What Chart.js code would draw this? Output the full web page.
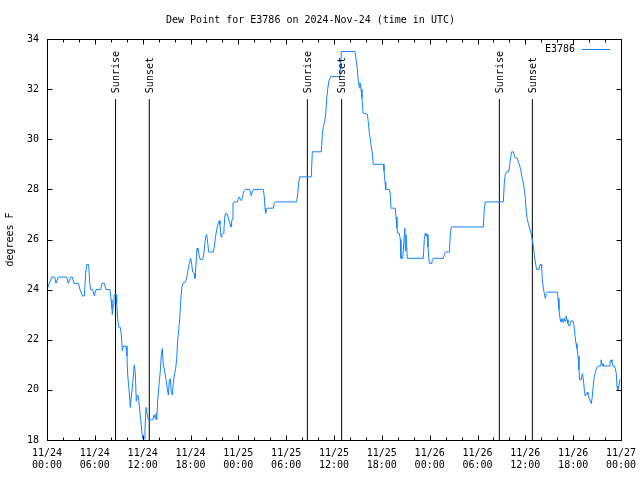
<!DOCTYPE html>
<html>
<head>
<meta charset="utf-8">
<title>Dew Point for E3786</title>
<script src="https://cdn.jsdelivr.net/npm/chart.js@4.4.1/dist/chart.umd.min.js"></script>
<style>
  html, body { margin: 0; padding: 0; background: #fff; }
  #grafico { display: block; }
</style>
</head>
<body>
<canvas id="grafico" width="640" height="480"></canvas>
<script>
// horas desde 11/24 00:00 UTC
const horas = [
  0, 0.59, 0.97, 1.13, 1.42, 2.47, 2.67, 2.97, 3.17, 3.39,
  3.93, 4.14, 4.43, 4.68, 4.85, 4.98, 5.23, 5.36, 5.48, 5.73,
  5.93, 6.15, 6.74, 6.90, 7.19, 7.40, 7.90, 8.03, 8.15, 8.19,
  8.32, 8.40, 8.66, 8.74, 8.87, 8.99, 9.19, 9.32, 9.45, 9.57,
  9.91, 10.03, 10.12, 10.29, 10.45, 10.62, 10.75, 10.88, 10.95, 11.08,
  11.20, 11.33, 11.45, 11.63, 11.75, 11.88, 12.00, 12.21, 12.29, 12.42,
  12.58, 12.71, 13.26, 13.42, 13.59, 13.67, 13.76, 13.89, 14.05, 14.21,
  14.34, 14.46, 14.59, 14.76, 14.93, 15.09, 15.22, 15.34, 15.47, 15.59,
  15.72, 15.84, 15.97, 16.14, 16.27, 16.39, 16.52, 16.65, 16.77, 16.90,
  17.02, 17.31, 17.47, 17.60, 17.72, 17.85, 18.03, 18.15, 18.28, 18.44,
  18.56, 18.69, 18.82, 18.94, 19.07, 19.23, 19.53, 19.66, 19.78, 19.91,
  20.03, 20.16, 20.28, 20.41, 20.86, 20.99, 21.11, 21.24, 21.36, 21.49,
  21.61, 21.70, 21.83, 21.95, 22.08, 22.20, 22.33, 22.45, 22.62, 22.74,
  22.87, 22.99, 23.08, 23.21, 23.33, 23.46, 23.87, 24.00, 24.12, 24.25,
  24.37, 24.50, 24.62, 24.75, 24.87, 25.38, 25.50, 25.63, 25.75, 25.88,
  27.13, 27.26, 27.35, 27.43, 27.51, 27.63, 28.39, 28.51, 28.64, 31.32,
  31.45, 31.57, 31.70, 33.15, 33.28, 34.41, 34.53, 34.66, 34.83, 34.96,
  35.09, 35.21, 35.34, 35.59, 36.75, 36.84, 36.92, 38.64, 38.76, 38.92,
  39.05, 39.18, 39.26, 39.39, 39.51, 39.64, 40.18, 40.30, 40.43, 40.55,
  40.68, 40.81, 40.93, 42.19, 42.27, 42.40, 42.49, 42.94, 43.06, 43.15,
  43.69, 43.78, 43.90, 43.99, 44.19, 44.32, 44.40, 44.62, 44.69, 44.82,
  44.87, 44.95, 45.03, 45.20, 47.20, 47.33, 47.45, 47.54, 47.67, 47.79,
  47.88, 47.96, 48.17, 48.29, 48.46, 49.71, 49.84, 49.96, 50.43, 50.51,
  50.59, 50.72, 54.73, 54.85, 54.98, 57.24, 57.36, 57.49, 57.66, 57.92,
  58.04, 58.17, 58.29, 58.49, 58.67, 58.74, 58.99, 59.12, 59.24, 59.37,
  59.50, 59.62, 59.75, 59.87, 60.00, 60.12, 60.25, 60.37, 60.50, 60.68,
  60.80, 60.93, 61.05, 61.18, 61.30, 61.43, 61.72, 61.84, 61.97, 62.05,
  62.13, 62.26, 62.38, 62.51, 62.63, 62.76, 64.01, 64.10, 64.22, 64.35,
  64.48, 64.60, 64.73, 64.85, 64.98, 65.10, 65.23, 65.35, 65.48, 65.60,
  65.73, 65.98, 66.11, 66.23, 66.36, 66.48, 66.61, 66.73, 66.82, 67.02,
  67.15, 67.27, 67.40, 67.52, 67.61, 67.74, 67.86, 68.03, 68.15, 68.28,
  68.40, 68.49, 68.62, 68.74, 68.87, 68.99, 69.15, 69.37, 69.49, 69.62,
  69.74, 70.50, 70.62, 70.75, 70.87, 71.00, 71.16, 71.29, 71.41, 71.50,
  71.59, 71.71, 71.84, 71.97
]

// punto de rocio (F), uno por cada hora de arriba
const rocio = [
  24.0, 24.5, 24.5, 24.25, 24.5, 24.5, 24.25, 24.5, 24.5, 24.25,
  24.25, 24.0, 23.75, 23.75, 24.65, 25.0, 25.0, 24.25, 24.0, 24.0,
  23.75, 24.0, 24.0, 24.25, 24.25, 24.0, 24.0, 23.6, 23.25, 23.0,
  23.4, 23.8, 23.8, 23.45, 22.8, 22.5, 22.5, 22.2, 21.55, 21.75,
  21.75, 21.35, 20.6, 20.0, 19.3, 19.85, 20.25, 20.75, 21.0, 20.65,
  19.55, 19.8, 19.75, 19.2, 18.8, 18.4, 18.05, 18.05, 18.4, 19.3,
  19.0, 18.8, 18.8, 19.0, 18.85, 19.05, 18.8, 19.6, 20.2, 20.75,
  21.4, 21.65, 21.0, 20.75, 20.4, 20.05, 19.8, 20.35, 20.45, 19.9,
  19.8, 20.25, 20.6, 20.85, 21.25, 21.95, 22.4, 22.85, 23.55, 24.05,
  24.25, 24.3, 24.4, 24.6, 24.85, 25.05, 25.25, 25.0, 24.7, 24.65,
  24.45, 25.0, 25.65, 25.55, 25.4, 25.2, 25.2, 25.4, 25.8, 26.1,
  26.2, 25.85, 25.5, 25.5, 25.5, 25.7, 26.05, 26.3, 26.5, 26.65,
  26.75, 26.6, 26.1, 26.2, 26.25, 26.45, 27.0, 27.05, 27.0, 26.85,
  26.7, 26.6, 26.5, 26.8, 27.45, 27.5, 27.5, 27.6, 27.7, 27.6,
  27.55, 27.65, 27.85, 27.95, 28.0, 28.0, 27.9, 27.75, 27.9, 28.0,
  28.0, 27.7, 27.25, 27.05, 27.2, 27.25, 27.25, 27.45, 27.5, 27.5,
  27.85, 28.25, 28.5, 28.5, 29.5, 29.5, 30.15, 30.5, 30.7, 31.0,
  31.65, 32.0, 32.3, 32.5, 32.5, 33.0, 33.5, 33.5, 33.2, 32.8,
  32.3, 32.05, 32.25, 32.0, 31.65, 31.05, 31.0, 30.7, 30.25, 30.0,
  29.7, 29.45, 29.0, 29.0, 28.75, 28.3, 28.0, 28.0, 27.8, 27.25,
  27.25, 26.9, 26.45, 26.25, 26.25, 26.0, 25.25, 25.25, 25.55, 26.2,
  26.45, 25.55, 26.2, 25.25, 25.25, 26.0, 26.25, 26.15, 26.2, 25.7,
  25.3, 25.05, 25.05, 25.15, 25.25, 25.25, 25.4, 25.5, 25.5, 25.75,
  26.2, 26.5, 26.5, 27.2, 27.5, 27.5, 28.25, 28.6, 28.7, 28.7,
  29.0, 29.3, 29.5, 29.5, 29.3, 29.25, 29.25, 29.1, 29.0, 28.85,
  28.65, 28.4, 28.25, 28.0, 27.65, 27.1, 26.8, 26.65, 26.5, 26.3,
  26.1, 25.9, 25.6, 25.25, 25.0, 24.8, 24.8, 25.0, 25.0, 24.9,
  24.4, 24.05, 23.85, 23.65, 23.85, 23.9, 23.9, 23.65, 23.2, 22.85,
  22.7, 22.85, 22.7, 22.85, 22.75, 22.95, 22.8, 22.65, 22.55, 22.6,
  22.75, 22.75, 22.55, 22.15, 21.85, 21.65, 21.35, 20.8, 20.4, 20.4,
  20.65, 20.45, 20.0, 19.75, 19.85, 19.9, 19.8, 19.65, 19.55, 19.45,
  19.75, 20.05, 20.45, 20.65, 20.8, 20.9, 20.95, 20.95, 21.2, 21.05,
  20.95, 20.95, 21.1, 21.2, 21.1, 20.95, 20.95, 20.85, 20.65, 20.15,
  20.0, 20.1, 20.4, 20.4
]

// amanecer / atardecer (horas) y hasta donde sube la marca (F)
const horasSol = [8.6, 12.83, 32.66, 36.96, 56.74, 60.88]
const nombresSol = ['Sunrise', 'Sunset', 'Sunrise', 'Sunset', 'Sunrise', 'Sunset']
const topeSol = 31.6

// etiquetas del eje x (cada 6 horas)
const fechasEje = ['11/24', '11/24', '11/24', '11/24', '11/25', '11/25', '11/25', '11/25', '11/26', '11/26', '11/26', '11/26', '11/27']
const horasEje = ['00:00', '06:00', '12:00', '18:00', '00:00', '06:00', '12:00', '18:00', '00:00', '06:00', '12:00', '18:00', '00:00']

const estacion = 'E3786'
const titulo = 'Dew Point for E3786 on 2024-Nov-24 (time in UTC)'
const colorLinea = '#1482ff'
const fuente = 'DejaVu Sans Mono'

Chart.defaults.font.family = fuente
Chart.defaults.font.size = 10
Chart.defaults.color = '#000'

// marco, marcas de los ejes, leyenda y textos de sol
const marco = {
    id: 'marco',
    afterDatasetsDraw(chart) {
        const ctx = chart.ctx
        const area = chart.chartArea
        const ex = chart.scales.x
        const ey = chart.scales.y
        const izq = Math.round(area.left) + 0.5
        const der = Math.round(area.right) + 0.5
        const arr = Math.round(area.top) + 0.5
        const aba = Math.round(area.bottom) + 0.5

        ctx.save()
        ctx.strokeStyle = '#000'
        ctx.lineWidth = 1
        ctx.beginPath()
        // marcas eje x, cada 2 horas
        for (let h = 0; h <= 72; h += 2) {
            const px = Math.round(ex.getPixelForValue(h)) + 0.5
            const largo = (h % 6 === 0) ? 5 : 3
            ctx.moveTo(px, aba); ctx.lineTo(px, aba - largo)
            ctx.moveTo(px, arr); ctx.lineTo(px, arr + largo)
        }
        // marcas eje y
        for (let v = 18; v <= 34; v += 2) {
            const py = Math.round(ey.getPixelForValue(v)) + 0.5
            ctx.moveTo(izq, py); ctx.lineTo(izq + 5, py)
            ctx.moveTo(der, py); ctx.lineTo(der - 5, py)
        }
        ctx.stroke()
        ctx.strokeRect(izq, arr, der - izq, aba - arr)

        // textos de amanecer / atardecer
        ctx.font = '10px ' + fuente
        ctx.fillStyle = '#000'
        ctx.textAlign = 'left'
        ctx.textBaseline = 'middle'
        for (let i = 0; i < horasSol.length; i++) {
            const px = ex.getPixelForValue(horasSol[i])
            const py = ey.getPixelForValue(topeSol)
            ctx.save()
            ctx.translate(px + 1, py - 6)
            ctx.rotate(-Math.PI / 2)
            ctx.fillText(nombresSol[i], 0, 0)
            ctx.restore()
        }

        // leyenda
        const ly = Math.round(area.top) + 10
        ctx.textAlign = 'right'
        ctx.fillText(estacion, area.right - 46, ly)
        ctx.strokeStyle = colorLinea
        ctx.beginPath()
        ctx.moveTo(area.right - 39, ly + 0.5)
        ctx.lineTo(area.right - 11, ly + 0.5)
        ctx.stroke()
        ctx.restore()
    }
}

function dibujar_grafico() {
    const puntos = horas.map((h, i) => ({ x: h, y: rocio[i] }))

    const lineasSol = horasSol.map(h => ({
        data: [{ x: h, y: 18 }, { x: h, y: topeSol }],
        borderColor: '#000',
        borderWidth: 1,
        pointRadius: 0,
        fill: false
    }))

    const config = {
        type: 'line',
        data: {
            datasets: [{
                label: estacion,
                data: puntos,
                borderColor: colorLinea,
                borderWidth: 1,
                pointRadius: 0,
                tension: 0,
                fill: false
            }].concat(lineasSol)
        },
        options: {
            responsive: false,
            animation: false,
            layout: {
                padding: { left: 0, right: 19, top: 0, bottom: 0 }
            },
            plugins: {
                legend: { display: false },
                tooltip: { enabled: false },
                title: {
                    display: true,
                    text: titulo,
                    color: '#000',
                    font: { family: fuente, size: 10, weight: 'normal' },
                    padding: { top: 14, bottom: 13 }
                }
            },
            scales: {
                x: {
                    type: 'linear',
                    min: 0,
                    max: 72,
                    grid: { display: false, drawTicks: false },
                    border: { display: false },
                    afterFit: (escala) => {
                        escala.height = 40
                        escala.paddingLeft = 0
                        escala.paddingRight = 0
                    },
                    afterBuildTicks: (escala) => {
                        escala.ticks = fechasEje.map((f, i) => ({ value: i * 6 }))
                    },
                    ticks: {
                        autoSkip: false,
                        maxRotation: 0,
                        padding: 7,
                        color: '#000',
                        callback: (valor) => {
                            const i = Math.round(valor / 6)
                            return [fechasEje[i], horasEje[i]]
                        }
                    }
                },
                y: {
                    min: 18,
                    max: 34,
                    grid: { display: false, drawTicks: false },
                    border: { display: false },
                    afterFit: (escala) => {
                        escala.width = 47
                        escala.paddingTop = 0
                        escala.paddingBottom = 0
                    },
                    ticks: {
                        stepSize: 2,
                        padding: 8,
                        color: '#000'
                    },
                    title: {
                        display: true,
                        text: 'degrees F',
                        color: '#000',
                        font: { family: fuente, size: 10 },
                        padding: { top: 4, bottom: 4 }
                    }
                }
            }
        },
        plugins: [marco]
    }

    const ctx = document.getElementById('grafico').getContext('2d')
    new Chart(ctx, config)
}

dibujar_grafico()
</script>
</body>
</html>
